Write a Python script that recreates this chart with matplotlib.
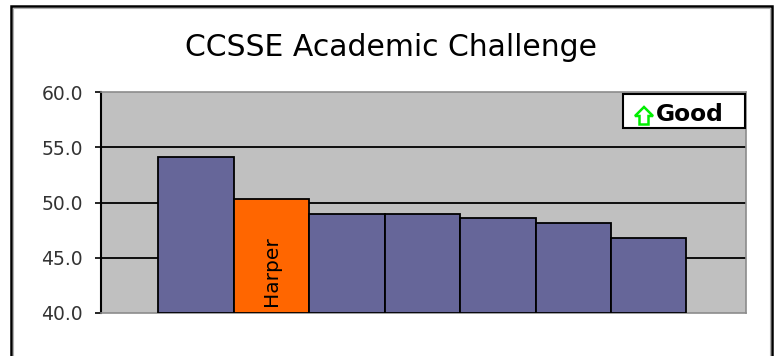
import matplotlib.pyplot as plt
from matplotlib.patches import Rectangle, Polygon

# ---------- data ----------
colleges = ['College 1', 'Harper', 'College 3', 'College 4', 'College 5', 'College 6', 'College 7']
scores = [54.1, 50.3, 49.0, 49.0, 48.6, 48.1, 46.8]
highlight = 'Harper'
yticks = [40.0, 45.0, 50.0, 55.0, 60.0]

W, H = 777, 356
fig = plt.figure(figsize=(W / 100, H / 100), dpi=100)
fig.patch.set_facecolor('white')

# outer chart frame (bottom edge runs off the picture)
fig.patches.append(Rectangle((11 / W, -0.1), (772 - 11) / W, (H - 6) / H + 0.1,
                             transform=fig.transFigure, fill=False,
                             edgecolor='black', linewidth=1.8))
fig.patches.append(Rectangle((13 / W, -0.1), (770 - 13) / W, (H - 8) / H + 0.1,
                             transform=fig.transFigure, fill=False,
                             edgecolor='#b0b0b0', linewidth=0.8))

ax = fig.add_axes([101 / W, (H - 313) / H, (746 - 101) / W, (313 - 92) / H])
ax.set_facecolor('#C0C0C0')

x = list(range(len(scores)))
colors = ['#FF6600' if c == highlight else '#666699' for c in colleges]
ax.bar(x, [s - 40 for s in scores], bottom=40, width=1.0, color=colors,
       edgecolor='black', linewidth=1.3, zorder=3)

for i, c in enumerate(colleges):
    if c == highlight:
        ax.text(i, 40.6, c, rotation=90, ha='center', va='bottom',
                fontsize=14.5, color='black', zorder=4)

ax.set_xlim(-0.5 - 0.76, len(scores) - 0.5 + 0.79)
ax.set_ylim(40, 60)
ax.set_yticks(yticks)
ax.set_yticklabels(['%.1f' % t for t in yticks], fontsize=13.5, color='#333333')
ax.set_xticks([])
ax.tick_params(axis='y', direction='out', length=4, width=1.2, pad=9, color='black')
ax.set_axisbelow(True)
for t in [45, 50, 55]:
    ax.axhline(t, color='black', linewidth=1.3, zorder=1)

ax.spines['left'].set_color('black')
ax.spines['left'].set_linewidth(1.5)
for s in ['top', 'right', 'bottom']:
    ax.spines[s].set_color('#8c8c8c')
    ax.spines[s].set_linewidth(1.2)

fig.text(391 / W, (H - 48) / H, 'CCSSE Academic Challenge', ha='center', va='center',
         fontsize=21.5, color='black')

# "Good" legend box
fig.patches.append(Rectangle((623 / W, (H - 128) / H), 122 / W, 34 / H,
                             transform=fig.transFigure, facecolor='white',
                             edgecolor='black', linewidth=1.5, zorder=5))
# outlined up arrow, in pixel coords converted to figure fractions
arrow_px = [(644, 107), (653, 116), (648.5, 116), (648.5, 124.5),
            (639.5, 124.5), (639.5, 116), (635, 116)]
fig.patches.append(Polygon([(px / W, (H - py) / H) for px, py in arrow_px],
                           closed=True, transform=fig.transFigure,
                           facecolor='white', edgecolor='#00EE00',
                           linewidth=1.8, zorder=6))
fig.text(656 / W, (H - 115) / H, 'Good', ha='left', va='center',
         fontsize=16.8, color='black', fontweight='bold', zorder=6)

fig.savefig('out.png', dpi=100)
